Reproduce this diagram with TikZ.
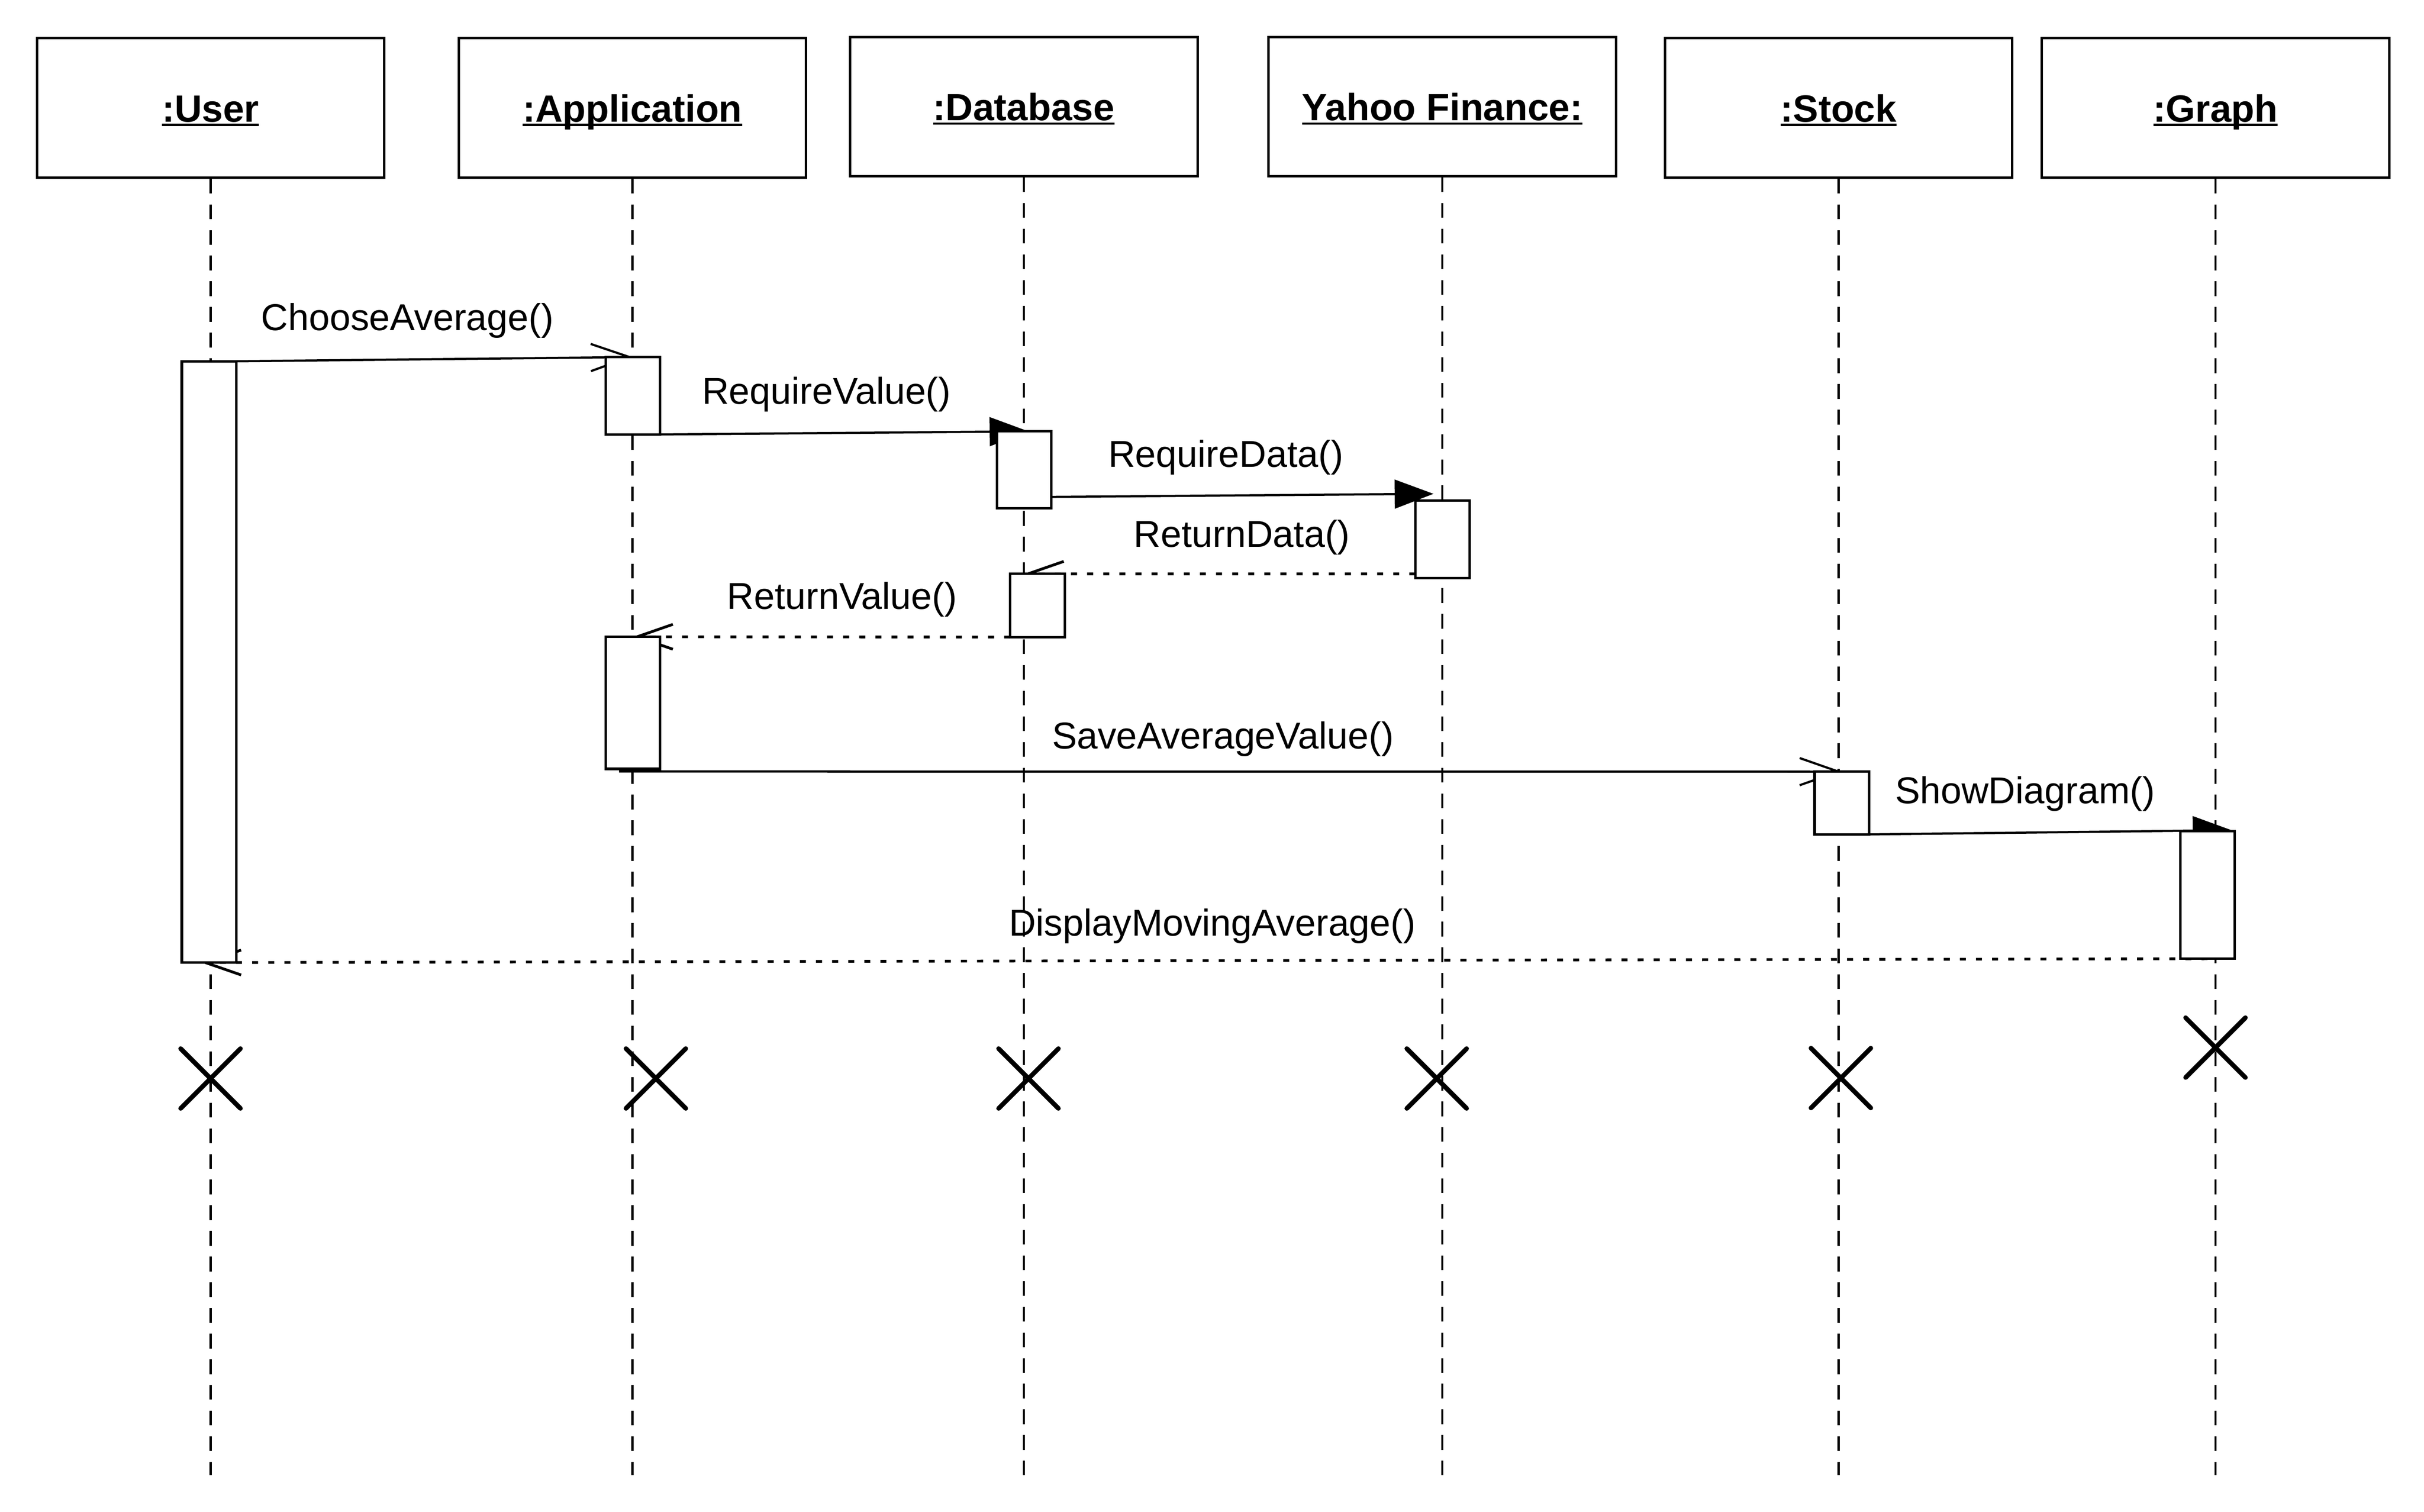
\documentclass[tikz,border=0pt]{standalone}
\usepackage{fontspec}
\setmainfont{Liberation Sans}
\usetikzlibrary{arrows.meta,calc,shapes.misc,backgrounds}

\newsavebox{\objbox}
\newcommand{\objlabel}[1]{\sbox{\objbox}{#1}\rlap{\rule[-0.75pt]{\wd\objbox}{0.4pt}}\usebox{\objbox}}

\begin{document}
\begin{tikzpicture}[
	x=1cm, y=-1cm,
	line width=0.45pt,
	object/.style={draw, minimum width=2.235cm, minimum height=0.896cm, inner sep=0pt,
		text height=0.18cm, text depth=0cm, font=\fontsize{6.95}{8}\selectfont\bfseries},
	lifeline/.style={dash pattern=on 2.7pt off 2pt},
	activation/.style={draw, fill=white, minimum width=0.35cm, inner sep=0pt, outer sep=0pt, anchor=north},
	call/.style={-{Triangle[length=2.5mm, width=1.85mm]}},
	async/.style={-{Straight Barb[length=2.5mm, width=1.75mm]}},
	reply/.style={line width=0.5pt, dash pattern=on 1.1pt off 1.85pt, -{Straight Barb[length=2.3mm, width=1.6mm]}},
	message/.style={anchor=base, inner sep=0pt, font=\fontsize{6.85}{8}\selectfont},
	destroy/.style={draw, cross out, line width=0.85pt, line cap=round, minimum size=0.355cm, inner sep=0pt}
	]
	\useasboundingbox (0,0) rectangle (15.6,9.7305);
	% objects
	\node[object] (user) at (1.355,0.694) {\objlabel{:User}};
	\node[object] (app) at (4.070,0.694) {\objlabel{:Application}};
	\node[object] (db) at (6.589,0.686) {\objlabel{:Database}};
	\node[object] (yf) at (9.282,0.686) {\objlabel{Yahoo Finance:}};
	\node[object] (st) at (11.832,0.694) {\objlabel{:Stock}};
	\node[object] (gr) at (14.258,0.694) {\objlabel{:Graph}};
	% activations
	\node[activation, minimum height=3.868cm] (uact) at (1.345,2.325) {};
	\node[activation, minimum height=0.498cm] (app1) at (4.0735,2.298) {};
	\node[activation, minimum height=0.495cm] (db1) at (6.592,2.776) {};
	\node[activation, minimum height=0.498cm] (yf1) at (9.2835,3.222) {};
	\node[activation, minimum height=0.407cm] (db2) at (6.6765,3.693) {};
	\node[activation, minimum height=0.850cm] (app2) at (4.0735,4.098) {};
	\node[activation, minimum height=0.404cm] (st1) at (11.853,4.966) {};
	\node[activation, minimum height=0.820cm] (gr1) at (14.2065,5.350) {};
	% lifelines and messages, under the activation boxes
	\begin{scope}[on background layer]
		\coordinate (user-end) at (1.355,9.495);
		\coordinate (app-end) at (4.070,9.495);
		\coordinate (db-end) at (6.589,9.495);
		\coordinate (yf-end) at (9.282,9.495);
		\coordinate (st-end) at (11.832,9.495);
		\coordinate (gr-end) at (14.258,9.495);
		\draw[lifeline] (user) -- (user-end);
		\draw[lifeline] (app) -- (app-end);
		\draw[lifeline] (db) -- (db-end);
		\draw[lifeline] (yf) -- (yf-end);
		\draw[lifeline] (st) -- (st-end);
		\draw[lifeline] (gr) -- (gr-end);
		\draw[async] (uact.north east) -- (app1.north);
		\draw[call] (app1.south east) -- ($(db1.north)+(0.027,0)$);
		\draw[call] ($(db1.south east)+(0,-0.073)$) -- ($(yf1.north)+(-0.058,-0.044)$);
		\draw[reply] ($(yf1.south west)+(0,-0.027)$) -- (db |- db2.north);
		\draw[reply] (db2.south west) -- (app2.north);
		\draw[async] ($(app2.south)+(-0.09,0.017)$) -- (st1.north);
		\draw[call] (st1.south east) -- ($(gr1.north east)+(-0.02,-0.007)$);
		\draw[reply] (gr1.south) -- ($(uact.south)+(-0.05,0.002)$);
	\end{scope}
	% labels
	\node[message] (l-choose) at (2.622,2.125) {ChooseAverage()};
	\node[message] (l-reqval) at (5.319,2.600) {RequireValue()};
	\node[message] (l-reqdata) at (7.889,3.006) {RequireData()};
	\node[message] (l-retdata) at (7.992,3.520) {ReturnData()};
	\node[message] (l-retval) at (5.419,3.919) {ReturnValue()};
	\node[message] (l-save) at (7.870,4.820) {SaveAverageValue()};
	\node[message] (l-show) at (13.032,5.170) {ShowDiagram()};
	\node[message] (l-display) at (7.802,6.024) {DisplayMovingAverage()};
	% destruction
	\node[destroy] (x-user) at (1.355,6.941) {};
	\node[destroy] (x-app) at (4.221,6.941) {};
	\node[destroy] (x-db) at (6.619,6.941) {};
	\node[destroy] (x-yf) at (9.246,6.941) {};
	\node[destroy] (x-st) at (11.847,6.938) {};
	\node[destroy] (x-gr) at (14.258,6.742) {};
\end{tikzpicture}
\end{document}
